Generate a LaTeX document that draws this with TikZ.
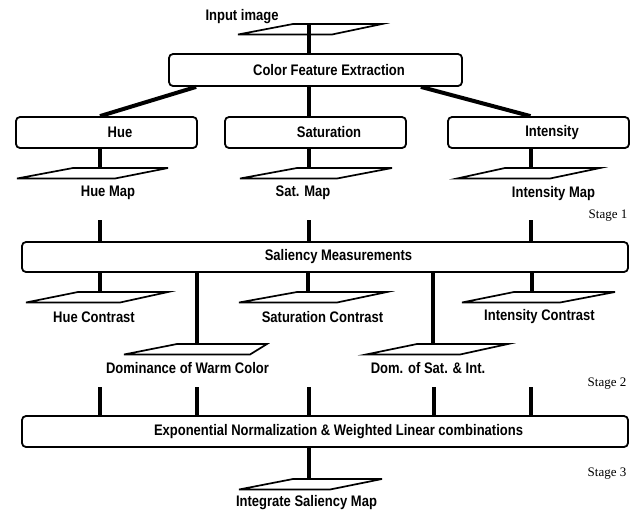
\documentclass[tikz,border=0pt]{standalone}
\usepackage{fontspec}
\newfontfamily\labfont[FakeStretch=0.85]{Liberation Sans}
\newfontfamily\stagefont{Liberation Serif}
\newcommand\pgm[7]{%
  \coordinate (#1) at (#2,#3);
  \draw[pg] ({#2+#4},#3) -- ({#2+#5},#3) -- ({#2+#7},{#3+10.5}) -- ({#2+#6},{#3+10.5}) -- cycle;}
\begin{document}
\begin{tikzpicture}[x=1pt,y=-1pt,
  box/.style={draw, line width=1.8pt, rounded corners=4pt, inner sep=0pt,
    font=\labfont\bfseries\fontsize{15.3}{17}\selectfont},
  lab/.style={inner sep=0pt, font=\labfont\bfseries\fontsize{15.3}{17}\selectfont},
  stg/.style={inner sep=0pt, font=\stagefont\fontsize{13}{15}\selectfont},
  conn/.style={line width=4pt},
  pg/.style={line width=1.7pt, line join=miter}]
\useasboundingbox (0,0) rectangle (637,512);

% ---- top
\node[lab] (tin) at (242,17) {Input image};
\pgm{inp}{309}{24}{-16}{73}{-71}{23}
\node[box, minimum width=293pt, minimum height=32pt] (cfe) at (315.5,70) {\hspace*{27pt}Color Feature Extraction};

\node[box, minimum width=181pt, minimum height=31pt] (hue) at (106.5,132.5) {\hspace*{27pt}Hue};
\node[box, minimum width=181pt, minimum height=31pt] (sat) at (315.5,132.5) {\hspace*{27pt}Saturation};
\node[box, minimum width=181pt, minimum height=31pt] (int) at (538.5,132.5) {\hspace*{27pt}Intensity};

\draw[conn] ([yshift=0.8pt]inp) -- (inp |- cfe.north);
\draw[conn] ([xshift=28pt]cfe.south west) -- ([xshift=-6.5pt]hue.north);
\draw[conn] ([xshift=-6.5pt]cfe.south) -- ([xshift=-6.5pt]sat.north);
\draw[conn] ([xshift=-42pt]cfe.south east) -- ([xshift=-8pt]int.north);

% ---- maps
\pgm{huem}{100}{168}{-27}{68}{-83}{15}
\pgm{satm}{309}{168}{-12}{83}{-69}{28}
\pgm{intm}{531}{168}{-26}{69}{-74}{19}
\draw[conn] (hue.south -| huem) -- ([yshift=0.8pt]huem);
\draw[conn] (sat.south -| satm) -- ([yshift=0.8pt]satm);
\draw[conn] (int.south -| intm) -- ([yshift=0.8pt]intm);
\node[lab] (thm) at (108,193) {Hue Map};
\node[lab] (tsm) at (303,193) {Sat. Map};
\node[lab] (tim) at (553.5,194) {Intensity Map};
\node[stg] (s1) at (608,216) {Stage 1};

% ---- saliency
\node[box, minimum width=606pt, minimum height=30pt] (sal) at (325,257) {\hspace*{27pt}Saliency Measurements};
\coordinate (a1) at (100,220);
\coordinate (a2) at (309,220);
\coordinate (a3) at (531,220);
\foreach \c in {a1,a2,a3} \draw[conn] (\c) -- (\c |- sal.north);

\pgm{huec}{100}{292}{-22}{68}{-74}{20}
\pgm{satc}{308}{292}{-11}{79}{-69}{29}
\pgm{intc}{532}{292}{-18}{83}{-70}{28}
\pgm{domw}{197}{344}{-20}{70}{-73}{53}
\pgm{doms}{433}{344}{-16}{75}{-67}{27}
\foreach \c in {huec,satc,intc,domw,doms} \draw[conn] (sal.south -| \c) -- ([yshift=0.8pt]\c);
\node[lab] (thc) at (94,317) {Hue Contrast};
\node[lab] (tsc) at (322.5,317) {Saturation Contrast};
\node[lab] (tic) at (539.5,317) {Intensity Contrast};
\node[lab] (tdw) at (187.5,368) {Dominance of Warm Color};
\node[lab] (tds) at (428,368) {Dom. of Sat. \& Int.};
\node[stg] (s2) at (607,384) {Stage 2};

% ---- exponential
\node[box, minimum width=606pt, minimum height=31pt] (expn) at (325,431.5) {\hspace*{27pt}Exponential Normalization \& Weighted Linear combinations};
\coordinate (b1) at (100,387);
\coordinate (b2) at (197,387);
\coordinate (b3) at (309,387);
\coordinate (b4) at (434,387);
\coordinate (b5) at (531,387);
\foreach \c in {b1,b2,b3,b4,b5} \draw[conn] (\c) -- (\c |- expn.north);

\pgm{integ}{309}{479}{-16}{73}{-70}{21}
\draw[conn] (expn.south -| integ) -- ([yshift=0.8pt]integ);
\node[lab] (tis) at (306.5,503) {Integrate Saliency Map};
\node[stg] (s3) at (607,474) {Stage 3};
\end{tikzpicture}
\end{document}
